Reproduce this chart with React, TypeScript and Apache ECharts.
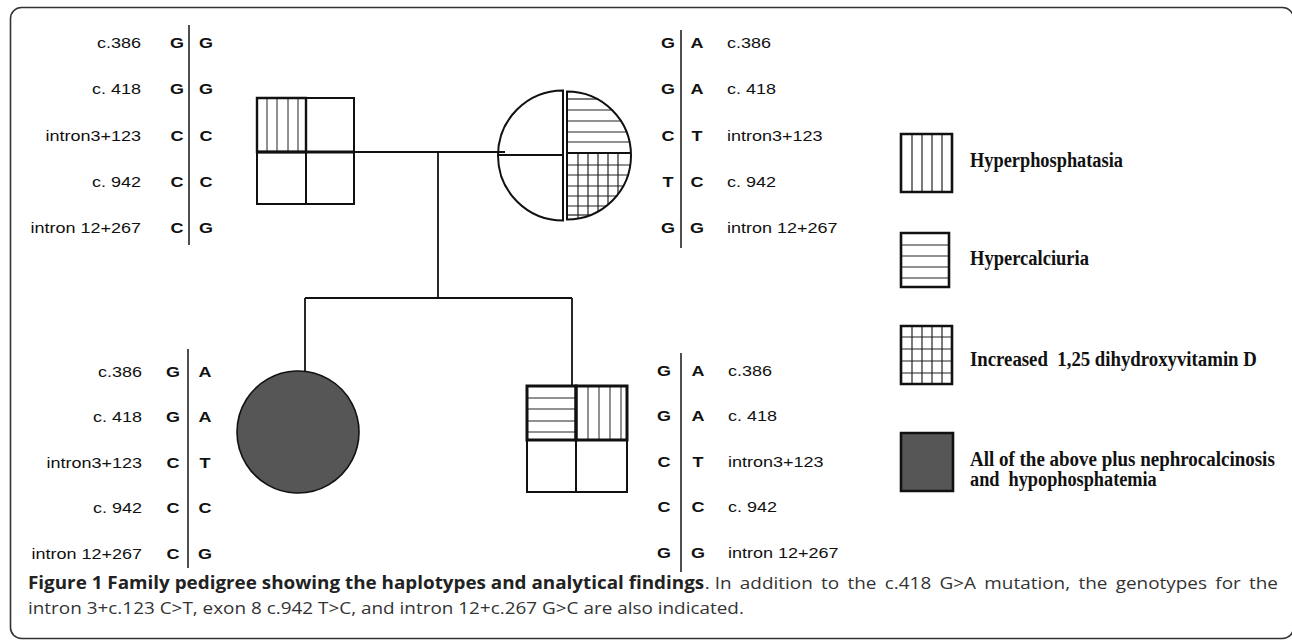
import React, { useEffect, useRef } from 'react';
import * as echarts from 'echarts';

// ---------- data ----------
const markers = ['c.386', 'c. 418', 'intron3+123', 'c. 942', 'intron 12+267'];
const fatherHapA = ['G', 'G', 'C', 'C', 'C'];
const fatherHapB = ['G', 'G', 'C', 'C', 'G'];
const motherHapA = ['G', 'G', 'C', 'T', 'G'];
const motherHapB = ['A', 'A', 'T', 'C', 'G'];
const daughterHapA = ['G', 'G', 'C', 'C', 'C'];
const daughterHapB = ['A', 'A', 'T', 'C', 'G'];
const sonHapA = ['G', 'G', 'C', 'C', 'G'];
const sonHapB = ['A', 'A', 'T', 'C', 'G'];
const legendLabels = [
  ['Hyperphosphatasia'],
  ['Hypercalciuria'],
  ['Increased  1,25 dihydroxyvitamin D'],
  ['All of the above plus nephrocalcinosis', 'and  hypophosphatemia'],
];
const captionBold = 'Figure 1 Family pedigree showing the haplotypes and analytical findings';
const captionRest1 = '. In addition to the c.418 G>A mutation, the genotypes for the';
const captionLine2 = 'intron 3+c.123 C>T, exon 8 c.942 T>C, and intron 12+c.267 G>C are also indicated.';

// ---------- layout ----------
const W = 1292;
const H = 642;
const INK = '#111';
const HATCH = '#222';
const FILL_DARK = '#565656';
const SANS = '"Liberation Sans", Arial, sans-serif';
const SERIF = '"Liberation Serif", "Times New Roman", serif';
const CAP = '"Open Sans", sans-serif';

let measureCtx: CanvasRenderingContext2D | null = null;
function measure(text: string, font: string): number {
  if (!measureCtx) measureCtx = document.createElement('canvas').getContext('2d');
  measureCtx!.font = font;
  return measureCtx!.measureText(text).width;
}

export default function App() {
  const ref = useRef<HTMLDivElement>(null);
  useEffect(() => {
    const chart = echarts.init(ref.current!, null, { renderer: 'svg', width: W, height: H });
    const els: any[] = [];
    const line = (x1: number, y1: number, x2: number, y2: number, lw = 2, color = INK) =>
      els.push({ type: 'line', silent: true, shape: { x1, y1, x2, y2 }, style: { stroke: color, lineWidth: lw } });
    const rect = (x: number, y: number, w: number, h: number, lw = 2, fill = 'none') =>
      els.push({ type: 'rect', silent: true, shape: { x, y, width: w, height: h }, style: { stroke: INK, lineWidth: lw, fill } });
    const text = (
      str: string, x: number, y: number,
      o: { size: number; family: string; weight?: string; fill?: string; align?: string; sx?: number }
    ) =>
      els.push({
        type: 'text', silent: true, x, y, scaleX: o.sx ?? 1,
        style: {
          text: str, fontSize: o.size, fontFamily: o.family, fontWeight: o.weight ?? 'normal',
          fill: o.fill ?? '#1a1a1a', align: o.align ?? 'left', verticalAlign: 'middle',
        },
      });

    // frame
    els.push({
      type: 'rect', silent: true,
      shape: { x: 10.5, y: 7.5, width: 1283, height: 631, r: 11 },
      style: { stroke: '#333', lineWidth: 1.6, fill: 'none' },
    });

    // haplotype blocks
    const LFSZ = 15;
    const LSX = 1.2;
    const hapBlock = (
      hapA: string[], hapB: string[], lineX: number, y0: number, y1: number,
      rowY: number, dy: number, ax: number, bx: number, side: 'left' | 'right', labelX: number
    ) => {
      line(lineX, y0, lineX, y1, 1.6, '#222');
      markers.forEach((m, i) => {
        const y = rowY + i * dy;
        text(hapA[i], ax, y, { size: LFSZ, family: SANS, weight: 'bold', align: 'center', sx: LSX, fill: '#111' });
        text(hapB[i], bx, y, { size: LFSZ, family: SANS, weight: 'bold', align: 'center', sx: LSX, fill: '#111' });
        text(m, labelX, y, { size: LFSZ, family: SANS, align: side === 'left' ? 'right' : 'left', sx: LSX, fill: '#111' });
      });
    };
    hapBlock(fatherHapA, fatherHapB, 189, 25, 245, 43, 46.3, 177, 206, 'left', 141);
    hapBlock(motherHapA, motherHapB, 681, 30, 248, 43, 46.3, 668, 697, 'right', 727);
    hapBlock(daughterHapA, daughterHapB, 188, 349, 568, 372, 45.5, 173, 205, 'left', 142);
    hapBlock(sonHapA, sonHapB, 681, 353, 572, 371, 45.5, 664, 698, 'right', 728);

    // pedigree connections
    line(354, 152, 505, 152, 1.8);
    line(438, 152, 438, 298, 1.8);
    line(305, 298, 572, 298, 1.8);
    line(305, 298, 305, 371, 1.8);
    line(572, 298, 572, 386, 1.8);

    // father (square, four quadrants, top-left hyperphosphatasia)
    [267, 277, 288, 298].forEach((x) => line(x, 98, x, 152, 1, HATCH));
    rect(257, 98, 97, 106, 2);
    line(306, 98, 306, 204, 2);
    line(257, 152, 354, 152, 3);
    rect(257, 98, 49, 54, 2.4);

    // mother (circle, halves separated)
    const mcx = 563, mcy = 155.5, mr = 65;
    const rcx = 567, rr = 64;
    const chordX = (y: number) => rcx + Math.sqrt(Math.max(0, rr * rr - (y - mcy) * (y - mcy)));
    [99, 110, 121, 132, 142].forEach((y) => line(rcx, y, chordX(y), y, 1.2, HATCH));
    [165, 175, 186, 196, 206, 215].forEach((y) => line(rcx, y, chordX(y), y, 1.2, HATCH));
    [578, 588, 598, 608, 618].forEach((x) => {
      const yb = mcy + Math.sqrt(Math.max(0, rr * rr - (x - rcx) * (x - rcx)));
      line(x, 153, x, yb, 1.2, HATCH);
    });
    els.push({
      type: 'sector', silent: true,
      shape: { cx: mcx, cy: mcy, r: mr, r0: 0, startAngle: Math.PI / 2, endAngle: (3 * Math.PI) / 2, clockwise: true },
      style: { fill: 'none', stroke: INK, lineWidth: 2 },
    });
    els.push({
      type: 'sector', silent: true,
      shape: { cx: rcx, cy: mcy, r: rr, r0: 0, startAngle: -Math.PI / 2, endAngle: Math.PI / 2, clockwise: true },
      style: { fill: 'none', stroke: INK, lineWidth: 2 },
    });
    line(mcx - mr, 155, mcx, 155, 2);
    line(rcx, 153, rcx + rr, 153, 2);

    // daughter (filled circle)
    els.push({
      type: 'circle', silent: true, shape: { cx: 298, cy: 432, r: 61 },
      style: { fill: FILL_DARK, stroke: INK, lineWidth: 1.6 },
    });

    // son (square, top-left hypercalciuria, top-right hyperphosphatasia)
    [398, 409, 421, 432].forEach((y) => line(527, y, 576, y, 1, HATCH));
    [588, 599, 610, 621].forEach((x) => line(x, 386, x, 440, 1, HATCH));
    rect(527, 386, 100, 106, 2);
    line(576, 440, 576, 492, 2);
    rect(527, 386, 49, 54, 3);
    rect(576, 386, 51, 54, 3);

    // legend
    const lx = 901;
    const lboxes = [
      { y: 134, w: 51, h: 58 },
      { y: 233, w: 48, h: 54 },
      { y: 326, w: 51, h: 58 },
      { y: 433, w: 52, h: 58 },
    ];
    [912, 922, 932, 942].forEach((x) => line(x, 134, x, 192, 1.2, HATCH));
    [245, 256, 267, 278].forEach((y) => line(lx, y, lx + 48, y, 1.2, HATCH));
    [912, 922, 932, 942].forEach((x) => line(x, 326, x, 384, 1.2, HATCH));
    [337, 349, 361, 373].forEach((y) => line(lx, y, lx + 51, y, 1.2, HATCH));
    lboxes.forEach((b, i) => rect(lx, b.y, b.w, b.h, 2.6, i === 3 ? FILL_DARK : 'none'));

    const legendTargets = [[153], [119], [287], [305, 187]];
    const legendY = [[160], [258], [359], [459, 479]];
    const LFS = 20;
    const lfont = `bold ${LFS}px ${SERIF}`;
    legendLabels.forEach((lines, i) => {
      lines.forEach((t, j) => {
        const sx = legendTargets[i][j] / measure(t, lfont);
        text(t, 970, legendY[i][j], { size: LFS, family: SERIF, weight: 'bold', sx, fill: '#111' });
      });
    });

    // caption
    const CFS = 17;
    const fBold = `bold ${CFS}px ${CAP}`;
    const fReg = `${CFS}px ${CAP}`;
    const cx0 = 28;
    // widths: "Figure 1 Family pedigree showing the" ≈ 349px,
    // "intron 3+c.123 C>T, exon 8 c.942 T>C, and" ≈ 367px
    const bsx = 349 / measure('Figure 1 Family pedigree showing the', fBold);
    const rsx = 367 / measure('intron 3+c.123 C>T, exon 8 c.942 T>C, and', fReg);
    text(captionBold, cx0, 582, { size: CFS, family: CAP, weight: 'bold', fill: '#222', sx: bsx });
    const boldEnd = cx0 + measure(captionBold, fBold) * bsx;
    const rest = captionRest1.split(' ');
    const restWords = [rest[0] + ' ' + rest[1], ...rest.slice(2)];
    const restW = restWords.reduce((s, w) => s + measure(w, fReg) * rsx, 0);
    const x1 = 1278;
    const gap = Math.max(measure(' ', fReg) * rsx, (x1 - boldEnd - restW) / (restWords.length - 1));
    let cx = boldEnd;
    restWords.forEach((w) => {
      text(w, cx, 582, { size: CFS, family: CAP, fill: '#333', sx: rsx });
      cx += measure(w, fReg) * rsx + gap;
    });
    text(captionLine2, cx0, 607, { size: CFS, family: CAP, fill: '#333', sx: rsx });

    chart.setOption({ animation: false, graphic: { elements: els } });
    return () => chart.dispose();
  }, []);
  return (
    <div
      ref={ref}
      style={{ position: 'fixed', left: 0, top: 0, width: W, height: H, background: '#fff' }}
    />
  );
}
